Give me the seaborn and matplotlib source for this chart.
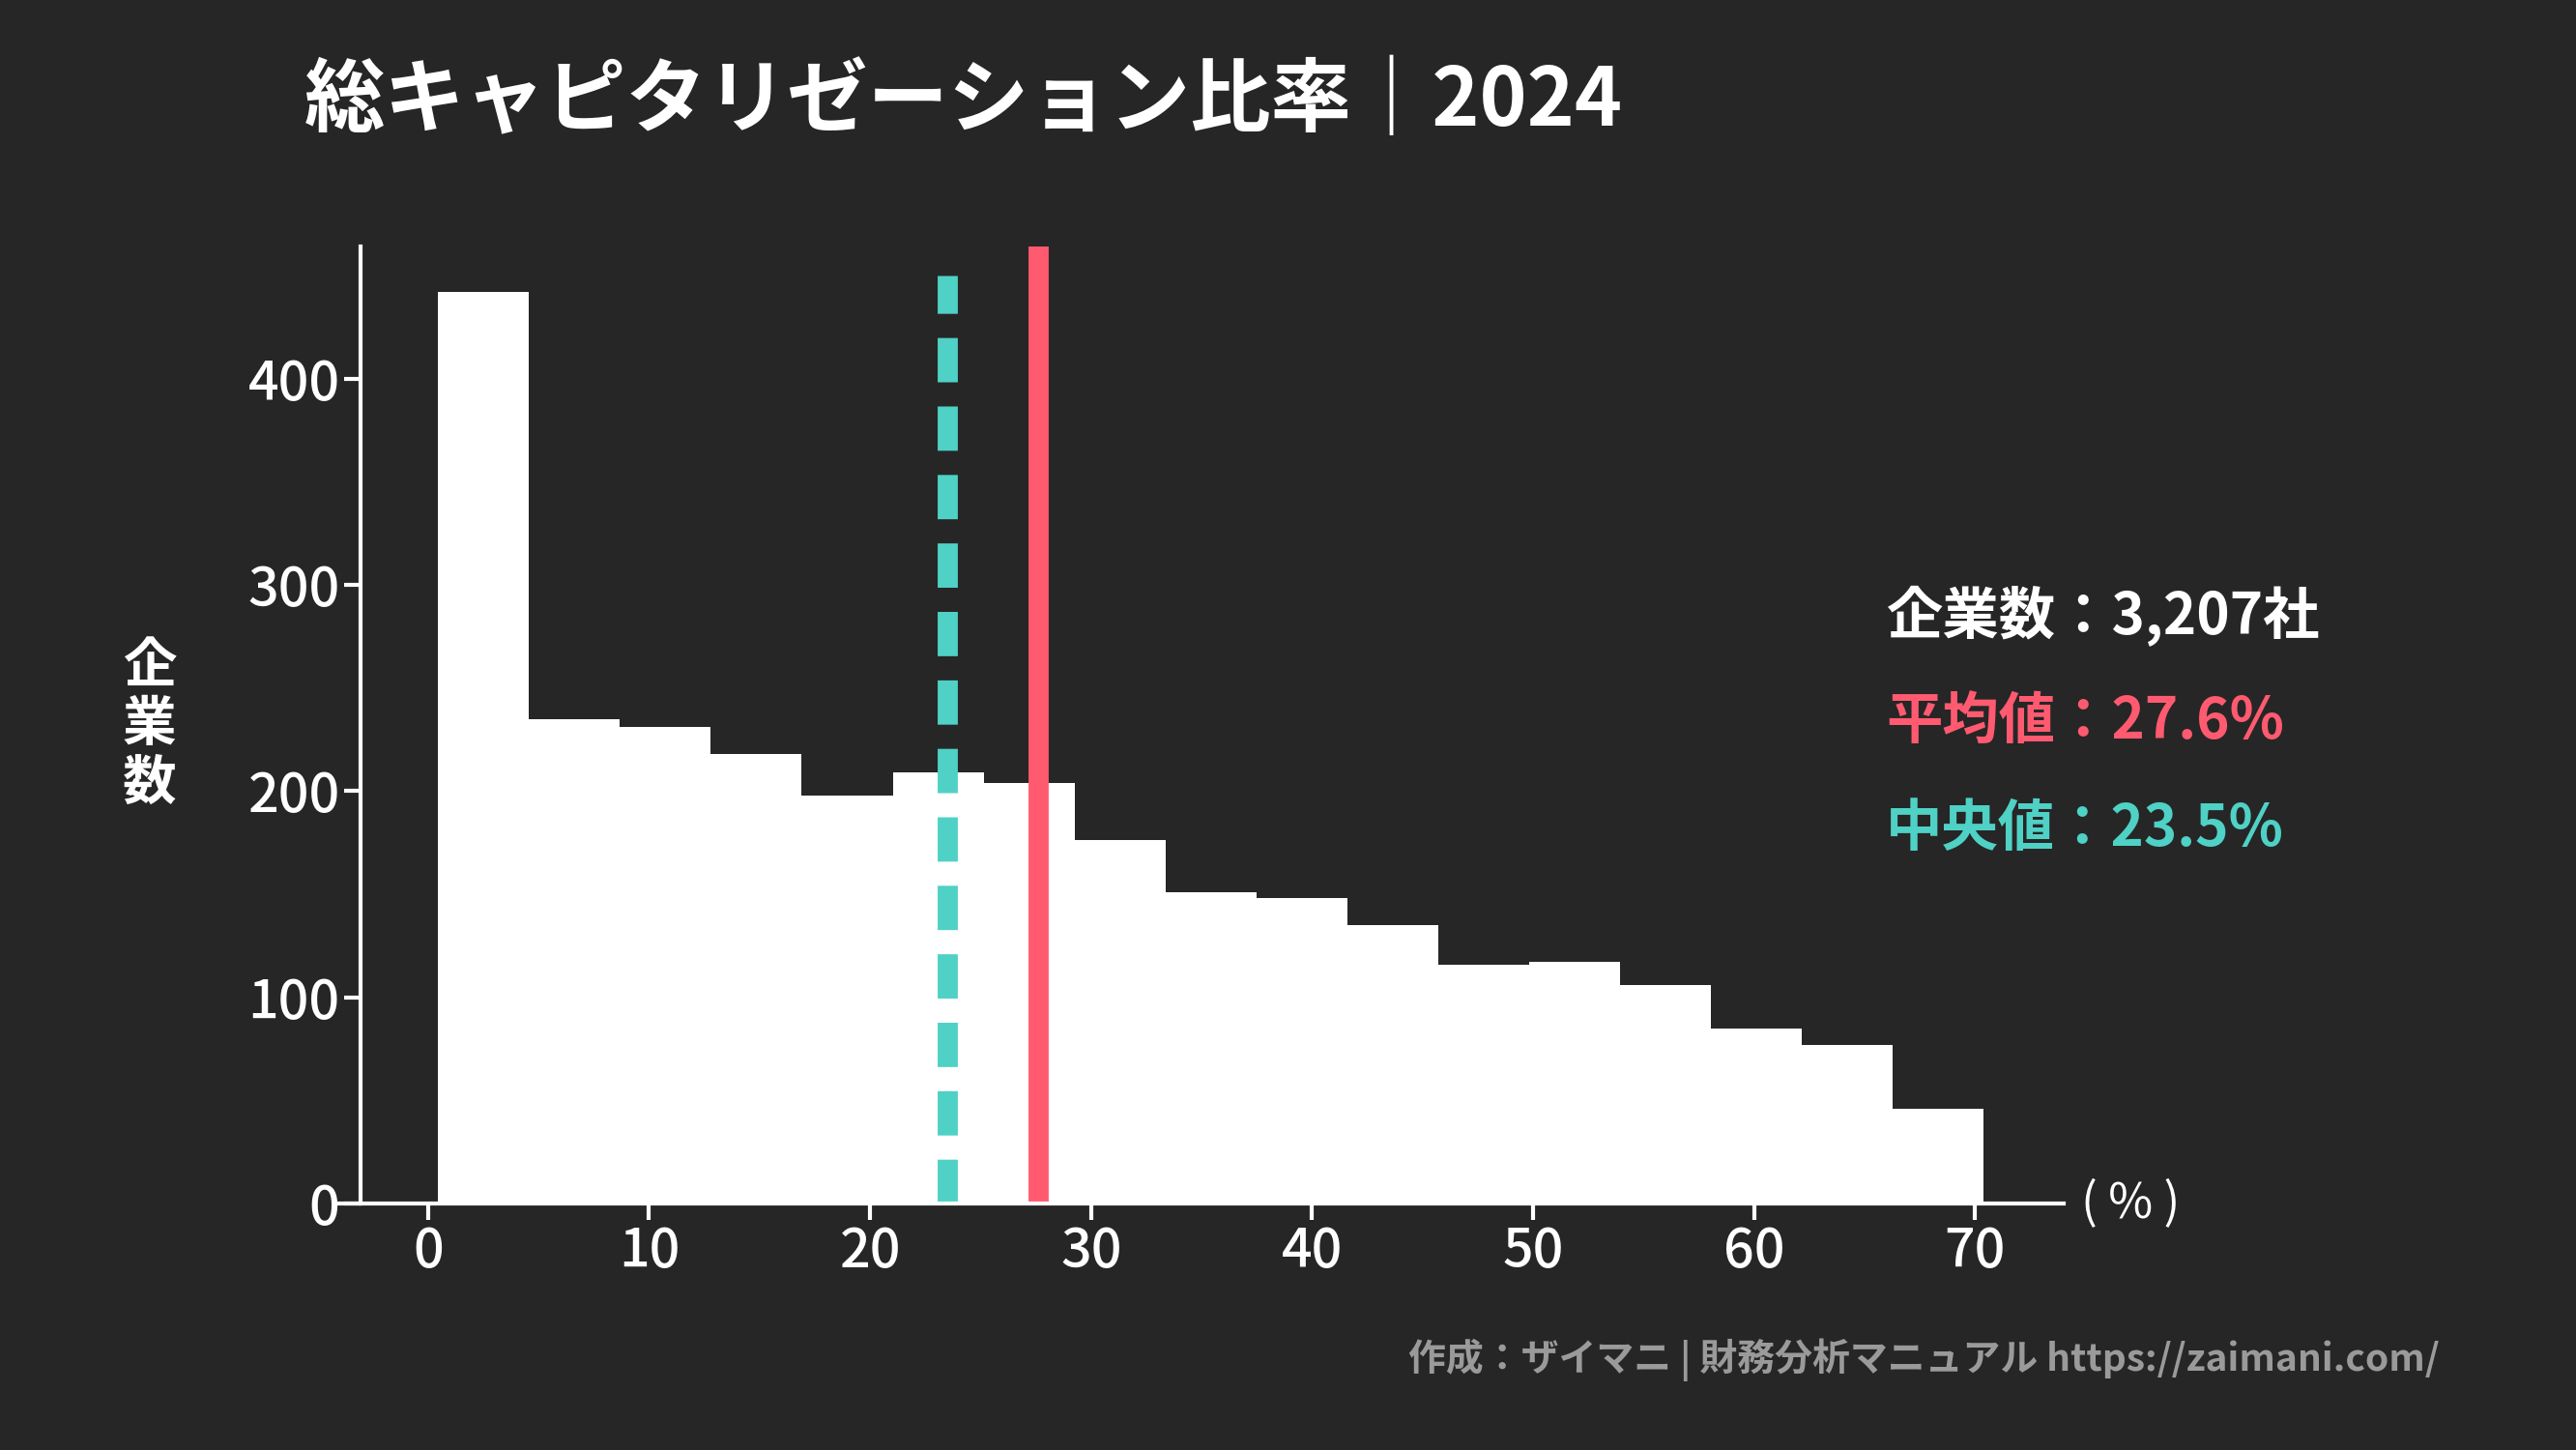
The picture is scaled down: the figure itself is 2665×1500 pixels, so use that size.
import numpy as np
import pandas as pd
import matplotlib
matplotlib.use("Agg")
import matplotlib.pyplot as plt
import seaborn as sns

bin_start = 0.45
bin_width = 4.115
counts = [442, 235, 231, 218, 198, 209, 204, 176, 151, 148, 135, 116, 117, 106, 85, 77, 46]
mean_val = 27.6
median_val = 23.5
xticks = [0, 10, 20, 30, 40, 50, 60, 70]
yticks = [0, 100, 200, 300, 400]

FONT = "Noto Sans CJK JP"
BG = "#262626"
RED = "#ff5a70"
TEAL = "#4fd1c5"
plt.rcParams["font.family"] = FONT

edges = [float(bin_start + bin_width * i) for i in range(len(counts) + 1)]
centers = [(edges[i] + edges[i + 1]) / 2 for i in range(len(counts))]
df = pd.DataFrame({"x": centers, "w": counts})

fig = plt.figure(figsize=(26.65, 15), dpi=100, facecolor=BG)
ax = fig.add_axes([0.131, 0.17, 0.67, 0.66], facecolor=BG)
sns.histplot(data=df, x="x", weights="w", bins=edges, ax=ax, color="white",
             alpha=1, edgecolor="none", linewidth=0)
ax.set_xlim(-4.1, 74.0)
ax.set_ylim(0, 464)
ax.axvline(median_val, ymin=0, ymax=450 / 464, color=TEAL, lw=15, ls=(0, (2.2, 1.2)))
ax.axvline(mean_val, ymin=0, ymax=1, color=RED, lw=15)
for s in ["top", "right"]:
    ax.spines[s].set_visible(False)
ax.spines["left"].set_position(("data", -3.05))
for s in ["left", "bottom"]:
    ax.spines[s].set_color("white")
    ax.spines[s].set_linewidth(3)
ax.set_xticks(xticks)
ax.set_yticks(yticks)
ax.tick_params(colors="white", labelsize=40, width=3, length=12)
for lab in ax.get_xticklabels() + ax.get_yticklabels():
    lab.set_fontweight("medium")
ax.set_xlabel("")
ax.set_ylabel("")

fig.text(0.118, 0.93, "総キャピタリゼーション比率｜2024", color="white", fontsize=60,
         fontweight="bold", va="center", ha="left")
fig.text(0.058, 0.50, "企\n業\n数", color="white", fontsize=40, fontweight="bold",
         va="center", ha="center", linespacing=1.1)
fig.text(0.808, 0.17, "( % )", color="white", fontsize=36, va="center", ha="left")
fig.text(0.732, 0.575, "企業数：3,207社", color="white", fontsize=42, fontweight="bold", va="center")
fig.text(0.732, 0.502, "平均値：27.6%", color=RED, fontsize=42, fontweight="bold", va="center")
fig.text(0.732, 0.428, "中央値：23.5%", color=TEAL, fontsize=42, fontweight="bold", va="center")
fig.text(0.947, 0.062, "作成：ザイマニ | 財務分析マニュアル https://zaimani.com/", color="#9a9a9a",
         fontsize=28, fontweight="bold", va="center", ha="right")

fig.savefig("out.png", dpi=100, facecolor=BG)
